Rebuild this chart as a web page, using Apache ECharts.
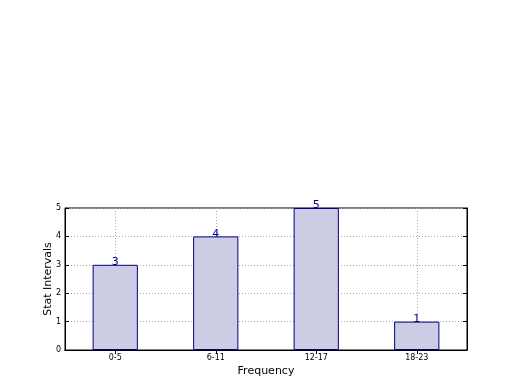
<!DOCTYPE html>
<html><head><meta charset="utf-8">
<script src="https://cdn.jsdelivr.net/npm/echarts@6/dist/echarts.min.js"></script>
<style>html,body{margin:0;padding:0;background:#fff}#c{width:520px;height:390px}</style>
</head><body><div id="c"></div>
<script>
const categories = ['0-5', '6-11', '12-17', '18-23'];
const counts = [3, 4, 5, 1];
const yTicks = [0, 1, 2, 3, 4, 5];

const chart = echarts.init(document.getElementById('c'), null, {renderer: 'canvas'});
const font = 'DejaVu Sans';
const gridLine = {show: true, lineStyle: {color: '#aaaaaa', type: [1, 2], width: 1}};
chart.setOption({
  animation: false,
  textStyle: {fontFamily: font},
  grid: {left: 65, right: 53, top: 208, bottom: 40, show: true, borderColor: '#000', borderWidth: 1, backgroundColor: 'transparent'},
  xAxis: [{
    type: 'category', data: categories, position: 'bottom',
    name: 'Frequency', nameLocation: 'middle', nameGap: 16, nameMoveOverlap: false,
    nameTextStyle: {fontSize: 11, color: '#000', fontFamily: font},
    axisLine: {show: true, lineStyle: {color: '#000'}},
    axisTick: {show: true, inside: true, length: 4, alignWithLabel: true, lineStyle: {color: '#000'}},
    axisLabel: {fontSize: 8, color: '#000', margin: 4, fontFamily: font},
    splitLine: Object.assign({alignWithLabel: true}, gridLine)
  }, {
    type: 'category', data: categories, position: 'top',
    axisLine: {show: true, lineStyle: {color: '#000'}},
    axisTick: {show: true, inside: true, length: 4, alignWithLabel: true, lineStyle: {color: '#000'}},
    axisLabel: {show: false}, splitLine: {show: false}
  }],
  yAxis: [{
    type: 'value', min: 0, max: 5, interval: 1,
    name: 'Stat Intervals', nameLocation: 'middle', nameGap: 11, nameMoveOverlap: false,
    nameTextStyle: {fontSize: 11, color: '#000', fontFamily: font},
    axisLine: {show: true, lineStyle: {color: '#000'}},
    axisTick: {show: true, inside: true, length: 4, lineStyle: {color: '#000'}},
    axisLabel: {fontSize: 8, color: '#000', margin: 4, fontFamily: font,
      formatter: v => yTicks.includes(v) ? String(v) : ''},
    splitLine: gridLine
  }, {
    type: 'value', min: 0, max: 5, interval: 1, position: 'right',
    axisLine: {show: true, lineStyle: {color: '#000'}},
    axisTick: {show: true, inside: true, length: 4, lineStyle: {color: '#000'}},
    axisLabel: {show: false}, splitLine: {show: false}
  }],
  series: [{
    type: 'bar', data: counts, xAxisIndex: 0, yAxisIndex: 0,
    barWidth: '45%', z: 1,
    itemStyle: {color: '#ccccE5', borderColor: '#000080', borderWidth: 1},
    label: {show: true, position: 'top', distance: -3, fontSize: 11, color: '#000080', fontFamily: font}
  }]
});
</script></body></html>
